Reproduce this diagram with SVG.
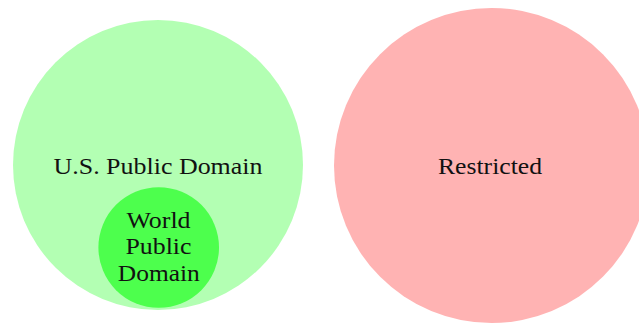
<svg xmlns="http://www.w3.org/2000/svg" width="639" height="325" viewBox="0 0 639 325">
<style>
text{font-family:"Liberation Serif","DejaVu Serif",serif;font-size:23.5px;fill:#111111;text-anchor:middle}
</style>
<rect width="639" height="325" fill="#ffffff"/>
<g id="us-public-domain">
<circle cx="158" cy="165" r="145" fill="#b3ffb3"/>
<text x="158" y="174" textLength="209" lengthAdjust="spacingAndGlyphs">U.S. Public Domain</text>
</g>
<g id="world-public-domain">
<circle cx="158.7" cy="247.5" r="60.3" fill="#4dff4d"/>
<text x="158.5" y="227.7" textLength="64" lengthAdjust="spacingAndGlyphs">World</text>
<text x="158.5" y="254.3" textLength="66" lengthAdjust="spacingAndGlyphs">Public</text>
<text x="158.8" y="281" textLength="82" lengthAdjust="spacingAndGlyphs">Domain</text>
</g>
<g id="restricted">
<circle cx="491.5" cy="165.5" r="157.5" fill="#ffb3b3"/>
<text x="490" y="174" textLength="104" lengthAdjust="spacingAndGlyphs">Restricted</text>
</g>
<g id="connectors"/>
</svg>
